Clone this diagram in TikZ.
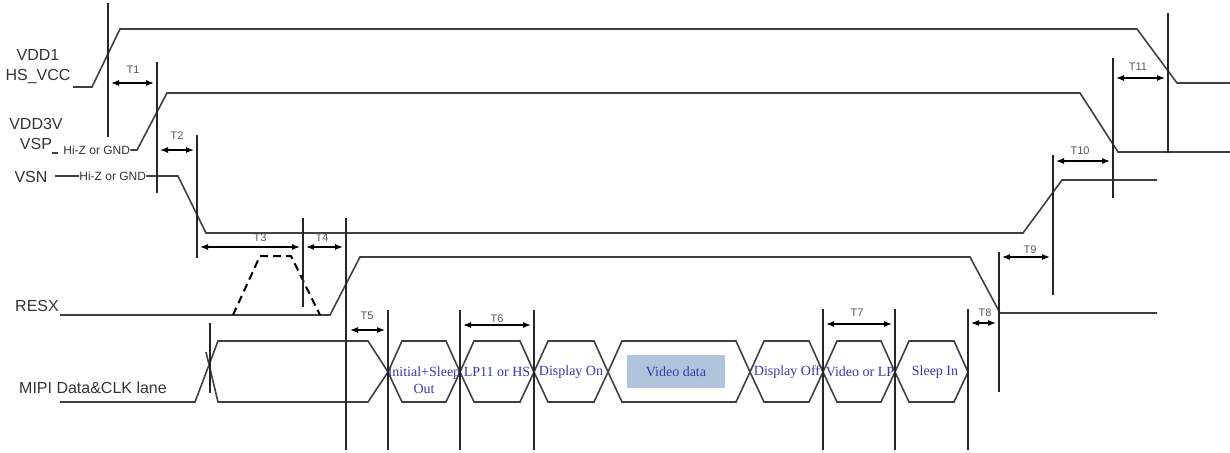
\documentclass[tikz,border=0pt]{standalone}
\usepackage{fontspec}
\setmainfont{Liberation Serif}
\setsansfont{Liberation Sans}
\usetikzlibrary{arrows.meta}

\definecolor{busblue}{RGB}{55,55,170}
\definecolor{videofill}{RGB}{176,196,222}

\tikzset{
  wave/.style={black!75, line width=0.8pt},
  marker/.style={black!85, line width=1pt},
  tspan/.style={{Latex[length=4pt,width=3pt]}-{Latex[length=4pt,width=3pt]}, black, line width=0.6pt},
  tlabel/.style={font=\sffamily\fontsize{5.5}{6}\selectfont, text=black!65, inner sep=0pt},
  signame/.style={font=\sffamily\fontsize{8}{10}\selectfont, text=black!80, align=center, inner sep=0pt},
  hiz/.style={font=\sffamily\fontsize{6}{6}\selectfont, text=black!80, inner sep=0pt},
  buslabel/.style={font=\rmfamily\fontsize{7}{8.5}\selectfont, text=busblue, align=center, inner sep=0pt}
}

\begin{document}
\begin{tikzpicture}[x=0.5pt, y=-0.5pt]
  \useasboundingbox (0,0) rectangle (1230,452);

  % Define the levels of the MIPI lane
  \def\bustop{341}
  \def\busmid{372}
  \def\busbot{402}
  \def\slope{14}

  % Signal names
  \node[signame] (vdd1) at (38,67) {VDD1\\HS\_VCC};
  \node[signame] (vdd3) at (36,134) {VDD3V\\VSP};
  \node[signame] (vsn) at (31,177) {VSN};
  \node[signame] (resx) at (37,306) {RESX};
  \node[signame] (mipi) at (93,388) {MIPI Data\&CLK lane};
  \node[hiz, anchor=west] (vsphiz) at (63,150) {Hi-Z or GND};
  \node[hiz, anchor=west] (vsnhiz) at (79,176) {Hi-Z or GND};

  % Supply and reset waveforms
  \draw[wave] (73,87) -- (92,87) -- (120,29) -- (1137,29) -- (1177,83) -- (1230,83);
  \draw[wave] (52,153) -- (58,153);
  \draw[wave] (vsphiz.east) -- (137,150) -- (167,93) -- (1080,93) -- (1118,152) -- (1230,152);
  \draw[wave] (55,176) -- (vsnhiz.west);
  \draw[wave] (vsnhiz.east) -- (178,176) -- (206,233) -- (1023,233) -- (1062,180) -- (1157,180);
  \draw[wave] (60,315) -- (330,315) -- (360,257) -- (970,257) -- (1000,313) -- (1157,313);
  \draw[black, line width=1pt, dash pattern=on 4pt off 2.5pt] (233,315) -- (260,256) -- (291,256) -- (320,315);

  % MIPI lane
  \draw[wave] (60,\busbot) -- (195,\busbot) -- (218,\bustop) -- (368,\bustop) -- (388,\busmid);
  \draw[wave] (206,352) -- (218,\busbot) -- (368,\busbot) -- (388,\busmid);
  \fill[videofill] (627,355) rectangle (725,388);
  \foreach \xa/\xb in {388/460, 460/534, 534/608, 608/750, 750/823, 823/895, 895/968}
    \draw[wave] (\xa,\busmid) -- ({\xa+\slope},\bustop) -- ({\xb-\slope},\bustop)
      -- (\xb,\busmid) -- ({\xb-\slope},\busbot) -- ({\xa+\slope},\busbot) -- cycle;

  \node[buslabel] (initial) at (424,380) {Initial+Sleep\\Out};
  \node[buslabel] (lp11) at (497,372) {LP11 or HS};
  \node[buslabel] (dispon) at (571,372) {Display On};
  \node[buslabel] (video) at (676,372) {Video data};
  \node[buslabel] (dispoff) at (787,372) {Display Off};
  \node[buslabel] (videolp) at (860,372) {Video or LP};
  \node[buslabel] (sleepin) at (935,372) {Sleep In};

  % Timing markers
  \foreach \x/\ya/\yb in {108/3/137, 157/62/193, 197/135/258, 210/323/393, 303/218/307,
      346/218/450, 388/310/450, 460/310/450, 534/310/450, 823/309/450, 895/309/450,
      968/309/450, 999/252/392, 1053/155/295, 1113/58/198, 1168/13/153}
    \draw[marker] (\x,\ya) -- (\x,\yb);

  % Timing spans
  \foreach \xa/\xb/\y/\lx/\ly/\name in {111/154/83/133/70/T1, 160/194/150/177/136/T2,
      200/300/247/260/238/T3, 306/343/247/322/238/T4, 350/385/330/367/316/T5,
      463/531/325/497/319/T6, 826/892/324/857/313/T7, 971/996/323/985/313/T8,
      1002/1050/257/1030/250/T9, 1056/1110/161/1080/151/T10, 1116/1165/78/1138/67/T11} {
    \draw[tspan] (\xa,\y) -- (\xb,\y);
    \node[tlabel] (\name) at (\lx,\ly) {\name};
  }

\end{tikzpicture}
\end{document}
